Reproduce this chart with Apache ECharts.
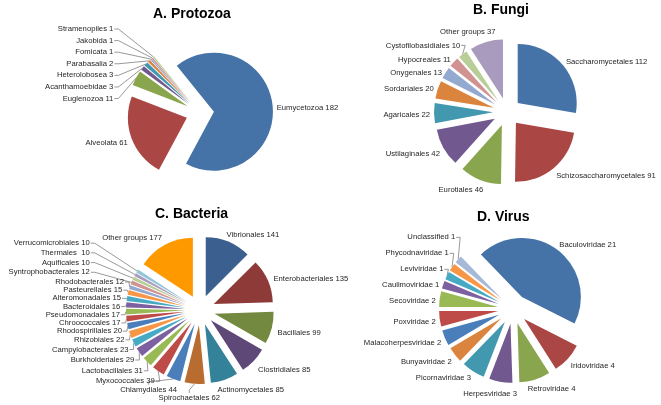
<!DOCTYPE html>
<html>
<head>
<meta charset="utf-8">
<script src="https://cdn.jsdelivr.net/npm/echarts@6/dist/echarts.min.js"></script>
<style>
html, body { margin: 0; padding: 0; background: #fff; }
#main { width: 661px; height: 405px; }
</style>
</head>
<body>
<div id="main"></div>
<script>
// data
var protozoaNames = ['Eumycetozoa', 'Alveolata', 'Euglenozoa', 'Acanthamoebidae', 'Heterolobosea', 'Parabasalia', 'Fomicata', 'Jakobida', 'Stramenopiles'];
var protozoaValues = [182, 61, 11, 3, 3, 2, 1, 1, 1];

var fungiNames = ['Saccharomycetales', 'Schizosaccharomycetales', 'Eurotiales', 'Ustilaginales', 'Agaricales', 'Sordariales', 'Onygenales', 'Hypocreales', 'Cystofilobasidiales', 'Other groups'];
var fungiValues = [112, 91, 46, 42, 22, 20, 13, 11, 10, 37];

var bacteriaNames = ['Vibrionales', 'Enterobacteriales', 'Bacillales', 'Clostridiales', 'Actinomycetales', 'Spirochaetales', 'Chlamydiales', 'Myxococcales', 'Lactobacillales', 'Burkholderiales', 'Campylobacterales', 'Rhizobiales', 'Rhodospirillales', 'Chroococcales', 'Pseudomonadales', 'Bacteroidales', 'Alteromonadales', 'Pasteurellales', 'Rhodobacterales', 'Syntrophobacterales', 'Aquificales', 'Thermales ', 'Verrucomicrobiales', 'Other groups'];
var bacteriaValues = [141, 135, 99, 85, 85, 62, 44, 39, 31, 29, 23, 22, 20, 17, 17, 16, 15, 15, 12, 12, 10, 10, 10, 177];

var virusNames = ['Baculoviridae', 'Iridoviridae', 'Retroviridae', 'Herpesviridae', 'Picornaviridae', 'Bunyaviridae', 'Malacoherpesviridae', 'Poxviridae', 'Secoviridae', 'Caulimoviridae', 'Leviviridae', 'Phycodnaviridae', 'Unclassified'];
var virusValues = [21, 4, 4, 3, 3, 2, 2, 2, 2, 1, 1, 1, 1];

// colours (excel-ish)
var mid6 = ['#4572A7', '#AA4643', '#89A54E', '#71588F', '#4198AF', '#DB843D'];
var dark6 = ['#3B5F8E', '#8D3A38', '#72893F', '#5D4878', '#34829A', '#B96C2F'];
var bright6 = ['#4A7EBB', '#BE4B48', '#98B954', '#7D60A0', '#46AAC5', '#F79646'];
var light6 = ['#93A9CF', '#D19392', '#B9CD96', '#A99BBD', '#92C5D7', '#F9B590'];

var protozoaColors = mid6.concat(light6);
var fungiColors = mid6.concat(light6);
var bacteriaColors = dark6.concat(bright6, bright6, light6.slice(0, 5), ['#FF9900']);
var virusColors = mid6.concat(bright6, ['#A7B9D8']);

var labelFont = "'Liberation Sans', Arial, sans-serif";
var labelSize = 7.7;

var measure = document.createElement('canvas').getContext('2d');
measure.font = labelSize + 'px ' + labelFont;

// push overlapping labels apart; the one farther from the pie's middle line moves more
function relax(items, cfg) {
    var lo = cfg.top + cfg.h / 2, hi = cfg.bottom - cfg.h / 2;
    for (var it = 0; it < 6000; it++) {
        var moved = false;
        for (var i = 0; i < items.length; i++) {
            for (var j = i + 1; j < items.length; j++) {
                var a = items[i], b = items[j];
                if (Math.abs(a.x - b.x) >= (a.w + b.w) / 2 + 1) continue;
                if (b.ny < a.ny) { var t = a; a = b; b = t; }
                var gap = (a.col || b.col) ? cfg.colSpace : cfg.space;
                var need = gap - (b.y - a.y);
                if (need <= 0.01) continue;
                var wa = Math.pow(Math.abs(a.ny - cfg.cy) + 1, 2);
                var wb = Math.pow(Math.abs(b.ny - cfg.cy) + 1, 2);
                if ((a.ny - cfg.cy) * (b.ny - cfg.cy) < 0) { wa = 1; wb = 1; }
                var fa = wa / (wa + wb);
                if (a.y - need * fa < lo) fa = Math.max(0, (a.y - lo) / need);
                if (b.y + need * (1 - fa) > hi) fa = Math.min(1, 1 - (hi - b.y) / need);
                a.y -= need * fa;
                b.y += need * (1 - fa);
                moved = true;
            }
        }
        if (!moved) break;
    }
}

// excel style "best fit" label placement, start = first slice angle (deg clockwise from 12 o'clock)
function placeLabels(names, values, cfg) {
    var total = 0;
    values.forEach(function (v) { total += v; });
    var acc = 0;
    var R = cfg.offset + cfg.radius + cfg.gap;
    var items = values.map(function (v, i) {
        var span = v / total * 360;
        var mid = (cfg.start + acc + span / 2) * Math.PI / 180;
        acc += span;
        var ux = Math.sin(mid), uy = -Math.cos(mid);
        var w = measure.measureText(names[i] + ' ' + v).width;
        var fx = Math.max(-1, Math.min(1, 2.2 * ux));
        var ax = cfg.cx + R * ux, ay = cfg.cy + R * uy;
        var y = ay + uy * cfg.h / 2 + 2;
        return {
            ux: ux, uy: uy, w: w, ax: ax, fx: fx, share: v / total,
            x: ax + fx * w / 2, nx: ax + fx * w / 2, y: y, ny: y,
            ox: cfg.cx + (cfg.offset + cfg.radius) * ux,
            oy: cfg.cy + (cfg.offset + cfg.radius) * uy
        };
    });
    relax(items, cfg);
    // small slices pushed far away go to a column with leader lines
    if (cfg.lead != null) {
        var any = false;
        [-1, 1].forEach(function (side) {
            var small = items.filter(function (p) {
                return (p.ux < 0 ? -1 : 1) === side && p.share < 0.05;
            });
            var far = small.filter(function (p) { return Math.abs(p.y - p.ny) > 6; });
            if (!far.length) return;
            var y0 = Math.min.apply(null, far.map(function (p) { return p.ny; }));
            var y1 = Math.max.apply(null, far.map(function (p) { return p.ny; }));
            var moved = small.filter(function (p) { return p.ny >= y0 && p.ny <= y1; });
            any = true;
            var ref = side < 0 ? Math.min.apply(null, moved.map(function (p) { return p.ax; })) - cfg.lead
                               : Math.max.apply(null, moved.map(function (p) { return p.ax; })) + cfg.lead;
            moved.forEach(function (p) { p.col = true; p.fx = side; p.nx = ref + side * p.w / 2; });
        });
        if (any) {
            items.forEach(function (p) { p.x = p.nx; p.y = p.ny; });
            relax(items, cfg);
        }
    }
    items.forEach(function (p, i) {
        p.line = values[i] <= cfg.lineMax || p.col || (p.share < 0.05 && Math.abs(p.y - p.ny) > 3);
        // the exploded slice carries its label, so work in unexploded coordinates
        var sx = cfg.offset * p.ux, sy = cfg.offset * p.uy;
        var pts;
        if (Math.abs(p.fx) > 0.95) {
            var sgn = p.fx > 0 ? -1 : 1;
            var ex = p.x + sgn * (p.w / 2 + 1);
            pts = [[p.ox, p.oy], [ex + sgn * 4, p.y], [ex, p.y]];
        } else {
            var ey = p.y - (p.uy > 0 ? 1 : -1) * (cfg.h / 2 + 1);
            pts = [[p.ox, p.oy], [p.x, ey - (p.uy > 0 ? 3 : -3)], [p.x, ey]];
        }
        p.points = pts.map(function (q) { return [q[0] - sx, q[1] - sy]; });
        p.lx = p.x - sx;
        p.ly = p.y - sy;
    });
    return items;
}

function makePie(names, values, colors, cfg) {
    var items = placeLabels(names, values, cfg);
    return {
        type: 'pie',
        center: [cfg.cx, cfg.cy],
        radius: cfg.radius,
        startAngle: 90 - cfg.start,
        clockwise: true,
        selectedMode: 'multiple',
        selectedOffset: cfg.offset,
        avoidLabelOverlap: false,
        label: {
            show: true,
            position: 'outside',
            formatter: '{b} {c}',
            fontSize: labelSize,
            lineHeight: 9,
            fontFamily: labelFont,
            color: '#262626',
            overflow: 'none'
        },
        labelLine: {
            show: true,
            length: 4,
            length2: 2,
            lineStyle: { color: '#7f7f7f', width: 0.8 }
        },
        labelLayout: function (params) {
            var p = items[params.dataIndex];
            var r = params.labelRect;
            return {
                dx: (p.lx - r.width / 2) - r.x,
                dy: (p.ly - r.height / 2) - r.y,
                labelLinePoints: p.points
            };
        },
        emphasis: { disabled: true },
        data: names.map(function (n, i) {
            return {
                name: n,
                value: values[i],
                selected: true,
                itemStyle: { color: colors[i] },
                labelLine: { show: items[i].line }
            };
        })
    };
}

var chart = echarts.init(document.getElementById('main'));

var titleStyle = { fontSize: 14, fontWeight: 'bold', color: '#000', fontFamily: 'Liberation Sans, Arial, sans-serif' };

var option = {
    backgroundColor: '#fff',
    animation: false,
    title: [
        { text: 'A. Protozoa', left: 153, top: 7, padding: 0, textStyle: titleStyle },
        { text: 'B. Fungi', left: 473, top: 3, padding: 0, textStyle: titleStyle },
        { text: 'C. Bacteria', left: 155, top: 207, padding: 0, textStyle: titleStyle },
        { text: 'D. Virus', left: 477, top: 210, padding: 0, textStyle: titleStyle }
    ],
    series: [
        makePie(protozoaNames, protozoaValues, protozoaColors,
            { cx: 200, cy: 113, radius: 59, offset: 14, gap: 4, start: 321, h: 8, space: 11.6, colSpace: 11.6, lead: 19, lineMax: 20, top: 25, bottom: 200 }),
        makePie(fungiNames, fungiValues, fungiColors,
            { cx: 507, cy: 112, radius: 59, offset: 14, gap: 4, start: 0, h: 8, space: 14, colSpace: 14, lead: null, lineMax: 0, top: 22, bottom: 200 }),
        makePie(bacteriaNames, bacteriaValues, bacteriaColors,
            { cx: 200, cy: 310, radius: 59, offset: 15, gap: 6, start: 0, h: 8, space: 8.2, colSpace: 9.7, lead: 36, lineMax: 62, top: 231, bottom: 402 }),
        makePie(virusNames, virusValues, virusColors,
            { cx: 513, cy: 309, radius: 59, offset: 15, gap: 4, start: 316, h: 8, space: 16, colSpace: 16, lead: null, lineMax: 0, top: 228, bottom: 402 })
    ]
};

chart.setOption(option);
</script>
</body>
</html>
